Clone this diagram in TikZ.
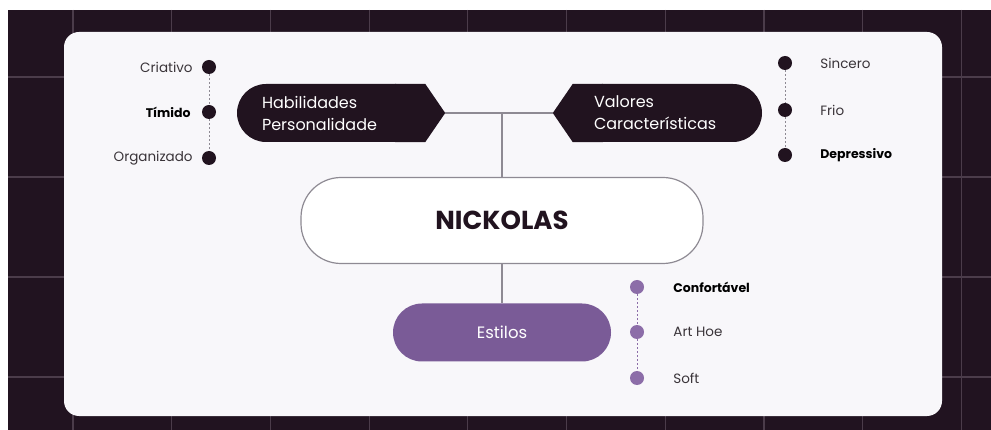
\documentclass[tikz,border=0pt]{standalone}
\usepackage{fontspec}
\setmainfont{Poppins}
\usepackage{tikz}
\usetikzlibrary{positioning,backgrounds}
\definecolor{bgdark}{HTML}{211320}
\definecolor{gridln}{HTML}{4B3C4A}
\definecolor{card}{HTML}{F8F7FA}
\definecolor{boxdark}{HTML}{21131F}
\definecolor{stylepurple}{HTML}{7A5B97}
\definecolor{dotpurple}{HTML}{8C6DA8}
\definecolor{linegrey}{HTML}{8E8A93}
\definecolor{lbltext}{HTML}{3A3439}

\begin{document}
\begin{tikzpicture}[x=1pt,y=-1pt,
    darkbox/.style={fill=boxdark,rounded corners=29pt,minimum height=58pt,inner xsep=25pt,
                    align=left,text=white,font=\fontsize{16}{22}\selectfont},
    pill/.style={rounded corners=29pt,minimum height=58pt,align=center},
    dot/.style={circle,fill=boxdark,minimum size=14pt,inner sep=0pt},
    pdot/.style={dot,fill=dotpurple},
    lbl/.style={font=\fontsize{13.5}{16}\selectfont,text=lbltext,inner sep=0pt},
    lblb/.style={lbl,font=\bfseries\fontsize{12.5}{16}\selectfont,text=black},
    link/.style={draw=linegrey,line width=1.2pt},
    dotlink/.style={draw=linegrey,line width=0.7pt,dash pattern=on 2pt off 2pt}
]
\useasboundingbox (0,0) rectangle (991,430);
% backdrop with grid
\begin{scope}[on background layer]
\fill[white] (0,0) rectangle (991,430);
\fill[bgdark] (8,10) rectangle (991,430);
\begin{scope}
\clip (8,10) rectangle (991,430);
\foreach \gx in {73,171.7,...,970} \draw[gridln,line width=1.2pt] (\gx,10) -- (\gx,430);
\foreach \gy in {77,177,277,377} \draw[gridln,line width=1.2pt] (8,\gy) -- (991,\gy);
\end{scope}
\fill[card,rounded corners=15pt] (64,32) rectangle (942,416);
\end{scope}

% main boxes
\node[darkbox,text width=138pt] (hab) at (331,113) {Habilidades\\Personalidade};
\node[darkbox,text width=147pt,inner xsep=21pt] (val) at (667.5,113) {Valores\\Características};
\begin{scope}[on background layer]
\fill[boxdark] ([xshift=-30pt]hab.north east) -- (hab.north east) -- ([xshift=20pt]hab.east)
    -- (hab.south east) -- ([xshift=-30pt]hab.south east) -- cycle;
\fill[boxdark] ([xshift=30pt]val.north west) -- (val.north west) -- ([xshift=-20pt]val.west)
    -- (val.south west) -- ([xshift=30pt]val.south west) -- cycle;
\end{scope}
\coordinate (habtip) at ([xshift=20pt]hab.east);
\coordinate (valtip) at ([xshift=-20pt]val.west);
\node[pill,draw=linegrey,fill=white,line width=1.2pt,rounded corners=40pt,minimum width=402pt,
      minimum height=86pt,text=boxdark,font=\bfseries\fontsize{26}{30}\selectfont] (nick) at (502,220.5) {NICKOLAS};
\node[pill,fill=stylepurple,minimum width=218pt,text=white,font=\fontsize{16.5}{20}\selectfont] (est) at (502,332.5) {Estilos};
\draw[link] (habtip) -- (valtip);
\draw[link] (nick.north) -- (nick.north |- habtip);
\draw[link] (nick.south) -- (est.north);

% left list
\node[dot] (cr) at (209,67) {};
\node[dot] (ti) at (209,112) {};
\node[dot] (or) at (209,158) {};
\draw[dotlink] (cr) -- (ti) -- (or);
\node[lbl,left=9pt of cr] (crl) {Criativo};
\node[lblb,left=11pt of ti] (til) {Tímido};
\node[lbl,left=9pt of or] (orl) {Organizado};

% right list
\node[dot] (si) at (785,63) {};
\node[dot] (fr) at (785,110) {};
\node[dot] (de) at (785,155) {};
\draw[dotlink] (si) -- (fr) -- (de);
\node[lbl,right=28pt of si] (sil) {Sincero};
\node[lbl,right=28pt of fr] (frl) {Frio};
\node[lblb,right=28pt of de] (del) {Depressivo};

% styles list
\node[pdot] (co) at (637,287) {};
\node[pdot] (ah) at (637,332) {};
\node[pdot] (so) at (637,378) {};
\draw[dotlink,draw=dotpurple] (co) -- (ah) -- (so);
\node[lblb,right=29pt of co] (col) {Confortável};
\node[lbl,right=29pt of ah] (ahl) {Art Hoe};
\node[lbl,right=29pt of so] (sol) {Soft};
\end{tikzpicture}
\end{document}
